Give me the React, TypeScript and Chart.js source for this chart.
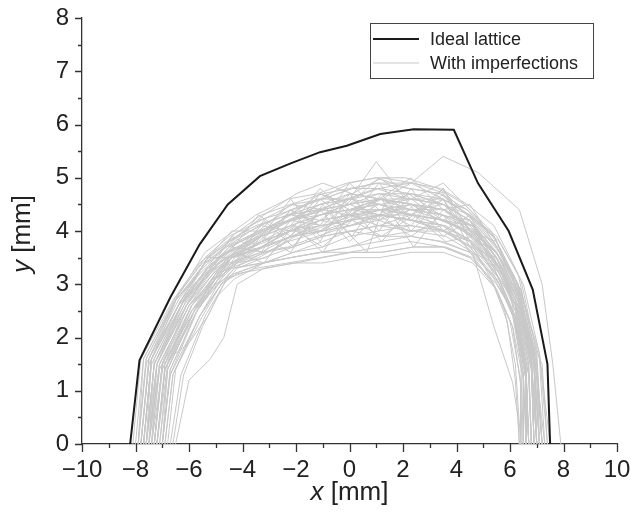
import { useEffect, useRef } from 'react';
import { Chart, registerables } from 'chart.js';

Chart.register(...registerables);

const FONT = '"Liberation Sans", Arial, Helvetica, sans-serif';

// Axis ranges and labelled ticks
const xRange = [-10, 10];
const yRange = [0, 8];
const xMajorStep = 2;
const yMajorStep = 1;

// Ideal lattice profile (mm)
const idealX = [-8.2, -7.85, -6.7, -5.6, -4.55, -3.35, -2.2, -1.1, -0.1, 1.15, 2.4, 3.9, 4.8, 5.95, 6.85, 7.4, 7.5];
const idealY = [0, 1.57, 2.75, 3.75, 4.5, 5.03, 5.27, 5.48, 5.6, 5.82, 5.91, 5.9, 4.9, 4.0, 2.9, 1.5, 0];

type Pt = [number, number];

// Profiles with imperfections, higher group
const upperRuns: Pt[][] = [
  [[-7.9,0],[-7.7,1.6],[-6.5,2.75],[-5.5,3.4],[-4.5,3.8],[-3.4,4.2],[-2.1,4.4],[-1.0,4.6],[0.1,4.8],[1.0,4.9],[2.2,4.8],[3.4,4.7],[4.4,4.3],[5.4,3.9],[6.2,3.0],[6.9,1.6],[7.1,0]],
  [[-8.0,0],[-7.7,1.6],[-6.4,2.8],[-5.4,3.6],[-4.6,3.9],[-3.5,4.3],[-2.3,4.6],[-1.2,4.7],[-0.1,4.9],[1.0,5.0],[2.1,5.0],[3.3,4.8],[4.3,4.5],[5.3,4.0],[6.2,3.1],[6.9,1.7],[7.3,0]],
  [[-7.8,0],[-7.5,1.5],[-6.3,2.7],[-5.3,3.5],[-4.4,4.0],[-3.4,4.0],[-2.2,4.5],[-1.0,4.4],[0.0,4.7],[1.2,4.6],[2.3,4.9],[3.5,4.6],[4.5,4.3],[5.5,3.9],[6.4,3.1],[7.0,1.7],[7.2,0]],
  [[-7.3,0],[-7.0,1.5],[-6.0,2.6],[-5.1,3.2],[-4.3,3.6],[-3.3,3.9],[-2.2,4.2],[-1.1,4.5],[0,4.6],[1.1,4.8],[2.3,4.9],[3.5,5.4],[4.8,5.1],[6.35,4.4],[7.2,3.0],[7.6,1.5],[7.9,0]],
  [[-7.9,0],[-7.6,1.6],[-6.5,2.7],[-5.4,3.4],[-4.6,3.7],[-3.4,4.1],[-2.3,4.3],[-1.2,4.6],[-0.1,4.6],[1.0,4.8],[2.2,4.6],[3.4,4.6],[4.4,4.4],[5.4,3.9],[6.3,3.0],[7.1,1.7],[7.5,0]],
  [[-7.5,0],[-7.3,1.6],[-6.2,2.7],[-5.2,3.4],[-4.4,3.9],[-3.3,4.3],[-2.2,4.5],[-1.0,4.7],[0,4.8],[1.1,4.9],[2.3,4.9],[3.4,4.8],[4.4,4.5],[5.4,4.1],[6.3,3.2],[6.9,1.8],[7.2,0]],
  [[-8.1,0],[-7.8,1.6],[-6.6,2.7],[-5.6,3.4],[-4.6,3.8],[-3.5,4.1],[-2.3,4.3],[-1.1,4.5],[0,4.6],[1.1,4.7],[2.3,4.7],[3.5,4.5],[4.5,4.2],[5.5,3.7],[6.4,2.9],[7.1,1.6],[7.3,0]],
  [[-7.6,0],[-7.3,1.5],[-6.2,2.7],[-5.3,3.5],[-4.5,3.8],[-3.3,4.1],[-2.2,4.4],[-1.1,4.6],[0,4.9],[1.0,5.0],[2.2,4.8],[3.4,4.7],[4.4,4.4],[5.4,3.8],[6.3,3.0],[6.9,1.6],[7.0,0]],
  [[-7.7,0],[-7.4,1.6],[-6.4,2.8],[-5.4,3.5],[-4.5,3.9],[-3.3,4.2],[-2.1,4.5],[-1.0,4.6],[0.1,4.8],[1.1,4.8],[2.3,4.7],[3.5,4.6],[4.5,4.3],[5.6,3.8],[6.5,3.0],[7.1,1.7],[7.4,0]],
  [[-7.6,0],[-7.2,1.5],[-6.1,2.7],[-5.2,3.3],[-4.5,3.7],[-3.3,4.0],[-2.2,4.3],[-1.1,4.7],[0,4.5],[1.1,5.0],[2.3,4.6],[3.5,4.9],[4.5,4.4],[5.5,3.8],[6.3,3.0],[6.8,1.6],[7.0,0]],
  [[-7.5,0],[-7.2,1.5],[-6.2,2.7],[-5.3,3.2],[-4.4,3.6],[-3.3,4.0],[-2.2,4.3],[-1.1,4.2],[0,4.6],[1.0,5.3],[2.4,4.4],[3.5,4.5],[4.6,4.0],[5.5,3.6],[6.3,2.8],[6.8,1.5],[6.9,0]],
  [[-7.9,0],[-7.6,1.5],[-6.5,2.7],[-5.5,3.3],[-4.6,3.7],[-3.4,4.0],[-2.3,4.2],[-1.1,4.3],[0,4.5],[1.1,4.7],[2.3,4.6],[3.5,4.5],[4.5,4.2],[5.5,3.6],[6.4,2.9],[7.0,1.6],[7.2,0]],
  [[-7.8,0],[-7.5,1.6],[-6.4,2.6],[-5.4,3.2],[-4.6,3.6],[-3.4,3.9],[-2.3,4.3],[-1.2,4.4],[0,4.6],[1.2,4.5],[2.3,4.7],[3.5,4.5],[4.5,4.3],[5.5,3.7],[6.3,2.9],[6.8,1.6],[7.0,0]],
  [[-7.4,0],[-7.2,1.5],[-6.1,2.6],[-5.2,3.3],[-4.4,3.7],[-3.4,4.0],[-2.3,4.2],[-1.1,4.5],[0,4.7],[1.1,4.6],[2.3,4.6],[3.5,4.5],[4.5,4.2],[5.6,3.5],[6.3,2.8],[6.8,1.6],[6.9,0]],
  [[-7.7,0],[-7.4,1.6],[-6.3,2.7],[-5.4,3.4],[-4.4,3.8],[-3.2,4.3],[-2.0,4.7],[-1.0,4.9],[0.1,4.7],[1.2,5.0],[2.4,4.9],[3.6,4.7],[4.6,4.2],[5.6,3.6],[6.4,2.8],[7.0,1.5],[7.2,0]],
];

// Profiles with imperfections, central group
const middleRuns: Pt[][] = [
  [[-7.6,0],[-7.3,1.5],[-6.1,2.6],[-5.1,3.2],[-4.4,3.5],[-3.3,3.9],[-2.2,4.1],[-1.1,4.3],[0,4.5],[1.1,4.6],[2.3,4.5],[3.5,4.4],[4.6,4.1],[5.6,3.4],[6.3,2.6],[6.8,1.4],[6.9,0]],
  [[-7.7,0],[-7.4,1.6],[-6.3,2.6],[-5.3,3.3],[-4.5,3.7],[-3.2,4.0],[-2.1,4.2],[-0.9,4.4],[0.65,3.6],[1.3,4.5],[2.3,4.6],[3.5,4.5],[4.5,4.2],[5.5,3.6],[6.2,2.9],[6.8,1.6],[7.0,0]],
  [[-7.0,0],[-6.7,1.4],[-5.7,2.5],[-4.9,3.2],[-4.2,3.4],[-3.1,3.6],[-2.0,3.9],[-0.9,4.1],[0.2,4.3],[1.3,4.4],[2.5,4.3],[3.6,4.2],[4.7,3.9],[5.7,3.2],[6.4,2.5],[7.0,1.3],[7.1,0]],
  [[-7.4,0],[-7.0,1.4],[-5.9,2.6],[-5.0,3.1],[-4.4,3.4],[-3.3,3.7],[-2.3,4.0],[-1.1,4.0],[0,4.3],[1.1,4.1],[2.3,4.3],[3.6,4.2],[4.6,3.9],[5.6,3.3],[6.3,2.6],[6.9,1.4],[7.0,0]],
  [[-7.7,0],[-7.4,1.6],[-6.3,2.7],[-5.3,3.3],[-4.6,3.6],[-3.4,3.8],[-2.3,4.3],[-1.1,4.4],[0,4.5],[1.1,4.3],[2.2,4.7],[3.4,4.3],[4.5,4.2],[5.5,3.5],[6.3,2.7],[6.8,1.5],[7.0,0]],
  [[-7.5,0],[-7.1,1.5],[-6.0,2.6],[-5.1,3.1],[-4.5,3.4],[-3.3,3.6],[-2.2,3.9],[-1.1,4.1],[0,4.2],[1.1,4.4],[2.3,4.4],[3.5,4.2],[4.5,4.0],[5.5,3.4],[6.2,2.7],[6.7,1.5],[6.8,0]],
  [[-7.3,0],[-7.0,1.5],[-5.8,2.5],[-4.9,3.2],[-4.4,3.5],[-3.3,3.7],[-2.2,4.0],[-1.1,4.3],[0,4.4],[1.1,4.4],[2.3,4.5],[3.5,4.3],[4.6,4.1],[5.5,3.5],[6.2,2.8],[6.6,1.5],[6.7,0]],
  [[-7.6,0],[-7.3,1.5],[-6.2,2.7],[-5.2,3.2],[-4.5,3.5],[-3.3,3.9],[-2.2,4.6],[-1.1,3.9],[0,4.2],[1.1,4.5],[2.3,4.3],[3.5,4.6],[4.5,3.9],[5.5,3.6],[6.3,2.7],[6.8,1.5],[6.9,0]],
  [[-7.8,0],[-7.5,1.5],[-6.4,2.6],[-5.4,3.2],[-4.6,3.5],[-3.3,3.8],[-2.2,4.0],[-1.1,4.2],[0,4.1],[1.1,4.3],[2.3,4.2],[3.5,4.1],[4.6,3.8],[5.6,3.2],[6.3,2.5],[6.8,1.4],[6.9,0]],
  [[-7.2,0],[-6.9,1.4],[-5.9,2.6],[-5.0,3.1],[-4.4,3.4],[-3.3,3.8],[-2.2,4.1],[-1.1,4.8],[0,4.3],[1.1,4.6],[2.3,4.4],[3.5,4.4],[4.5,4.1],[5.5,3.5],[6.2,2.7],[6.6,1.4],[6.6,0]],
  [[-7.6,0],[-7.4,1.6],[-6.3,2.7],[-5.3,3.3],[-4.5,3.5],[-3.3,3.7],[-2.2,3.9],[-1.1,4.0],[0,4.4],[1.1,4.5],[2.3,4.4],[3.5,4.3],[4.6,4.0],[5.6,3.3],[6.3,2.5],[6.9,1.4],[7.1,0]],
  [[-7.7,0],[-7.4,1.5],[-6.3,2.6],[-5.3,3.2],[-4.5,3.6],[-3.3,3.9],[-2.2,4.1],[-1.1,4.3],[0,4.4],[1.2,4.6],[2.4,3.7],[3.5,4.4],[4.5,4.1],[5.5,3.5],[6.3,2.8],[6.9,1.5],[7.0,0]],
  [[-7.3,0],[-7.0,1.5],[-5.9,2.6],[-5.0,3.2],[-4.4,3.5],[-3.3,3.8],[-2.2,4.0],[-1.1,4.2],[0,4.3],[1.1,4.2],[2.3,4.4],[3.5,4.3],[4.5,3.9],[5.5,3.3],[6.2,2.6],[6.7,1.4],[6.8,0]],
  [[-7.9,0],[-7.6,1.6],[-6.5,2.7],[-5.4,3.3],[-4.6,3.6],[-3.4,3.9],[-2.3,4.2],[-1.1,4.4],[0,4.5],[1.1,4.6],[2.3,4.5],[3.5,4.4],[4.5,4.0],[5.5,3.4],[6.3,2.7],[7.0,1.5],[7.2,0]],
  [[-7.4,0],[-7.1,1.4],[-6.1,2.6],[-5.2,3.2],[-4.4,3.7],[-3.2,3.6],[-2.2,4.2],[-1.0,4.1],[0.1,4.6],[1.1,4.2],[2.3,4.6],[3.5,4.2],[4.6,4.1],[5.5,3.4],[6.2,2.7],[6.7,1.5],[6.8,0]],
  [[-7.0,0],[-6.8,1.4],[-5.8,2.5],[-4.9,3.1],[-4.3,3.4],[-3.2,3.7],[-2.1,3.9],[-1.1,4.2],[0,4.3],[1.1,4.4],[2.3,4.3],[3.5,4.2],[4.6,3.9],[5.6,3.2],[6.2,2.5],[6.6,1.3],[6.7,0]],
  [[-7.3,0],[-7.0,1.4],[-5.9,2.5],[-5.0,3.1],[-4.4,3.5],[-3.3,3.8],[-2.2,4.0],[-1.1,4.3],[0,4.4],[1.1,4.5],[2.3,4.3],[3.5,4.8],[4.5,3.8],[5.5,3.4],[6.2,2.6],[6.6,1.4],[6.7,0]],
  [[-7.4,0],[-7.1,1.5],[-6.0,2.6],[-5.1,3.2],[-4.4,3.5],[-3.3,3.8],[-2.2,4.0],[-1.1,4.2],[0,4.3],[1.1,4.3],[2.3,4.3],[3.5,4.1],[4.6,3.6],[5.4,2.2],[6.1,1.15],[6.3,0.5],[6.35,0]],
  [[-7.5,0],[-7.2,1.5],[-6.0,2.7],[-5.1,3.3],[-4.3,3.6],[-3.2,4.0],[-2.2,4.2],[-1.0,4.4],[0,4.3],[1.2,4.6],[2.4,4.5],[3.6,4.4],[4.6,4.0],[5.6,3.3],[6.4,2.4],[7.2,1.5],[7.4,0]],
  [[-7.2,0],[-6.8,1.5],[-5.7,2.6],[-4.8,3.3],[-4.2,3.6],[-3.1,3.8],[-2.1,4.1],[-1.0,4.0],[0.1,4.4],[1.2,4.3],[2.3,4.5],[3.4,4.2],[4.4,4.0],[5.4,3.5],[6.0,2.9],[6.4,1.6],[6.5,0]],
];

// Profiles with imperfections, strongly irregular
const jaggedRuns: Pt[][] = [
  [[-7.5,0],[-7.2,1.5],[-6.1,2.6],[-5.2,3.3],[-4.4,3.9],[-3.3,3.6],[-2.2,4.4],[-1.1,3.8],[0,4.7],[1.1,4.0],[2.3,4.8],[3.5,4.0],[4.5,4.3],[5.5,3.3],[6.3,2.8],[6.8,1.4],[6.9,0]],
  [[-7.2,0],[-6.9,1.4],[-5.8,2.5],[-4.9,3.3],[-4.3,3.4],[-3.2,4.2],[-2.1,3.7],[-1.0,4.5],[0.1,3.9],[1.2,4.7],[2.3,4.0],[3.5,4.6],[4.5,3.7],[5.5,3.5],[6.2,2.5],[6.7,1.3],[6.8,0]],
  [[-7.8,0],[-7.5,1.6],[-6.4,2.7],[-5.4,3.4],[-4.5,3.6],[-3.4,4.3],[-2.2,3.9],[-1.1,4.6],[0,4.2],[1.1,4.9],[2.3,4.2],[3.5,4.7],[4.5,4.0],[5.5,3.8],[6.4,2.7],[7.0,1.6],[7.1,0]],
  [[-7.0,0],[-6.7,1.4],[-5.7,2.5],[-4.9,3.1],[-4.3,3.6],[-3.2,3.4],[-2.1,4.1],[-1.0,3.6],[0.1,4.4],[1.2,3.8],[2.4,4.5],[3.5,3.9],[4.5,4.2],[5.5,3.2],[6.2,2.6],[6.6,1.3],[6.7,0]],
  [[-7.6,0],[-7.3,1.5],[-6.2,2.6],[-5.3,3.2],[-4.4,3.5],[-3.3,3.8],[-2.2,4.4],[-1.1,4.1],[0,4.9],[1.1,4.4],[2.3,4.1],[3.5,4.8],[4.5,4.0],[5.5,3.6],[6.3,2.9],[6.9,1.5],[7.0,0]],
  [[-7.3,0],[-7.0,1.4],[-5.9,2.5],[-5.0,3.2],[-4.4,3.3],[-3.3,3.9],[-2.2,3.6],[-1.1,4.4],[0,3.8],[1.1,4.3],[2.3,3.9],[3.5,4.3],[4.5,3.6],[5.5,3.4],[6.2,2.6],[6.6,1.4],[6.7,0]],
  [[-7.7,0],[-7.4,1.6],[-6.3,2.7],[-5.3,3.5],[-4.5,3.5],[-3.3,4.1],[-2.2,4.0],[-1.1,4.7],[0,4.4],[1.1,4.6],[2.3,5.0],[3.5,4.4],[4.5,4.5],[5.5,3.7],[6.3,3.0],[6.9,1.6],[7.1,0]],
  [[-6.9,0],[-6.6,1.3],[-5.6,2.4],[-4.8,3.1],[-4.2,3.4],[-3.1,3.5],[-2.0,4.0],[-1.0,3.7],[0.1,4.2],[1.2,3.9],[2.4,4.3],[3.6,3.8],[4.6,3.9],[5.6,3.0],[6.2,2.4],[6.6,1.2],[6.7,0]],
];

// Profiles with imperfections, lower group
const lowerRuns: Pt[][] = [
  [[-7.2,0],[-6.9,1.4],[-5.7,2.5],[-4.9,3.1],[-4.5,3.3],[-3.4,3.5],[-2.3,3.8],[-1.0,4.0],[0.1,4.2],[1.2,4.3],[2.4,4.2],[3.6,4.0],[4.5,3.8],[5.4,3.3],[6.1,2.5],[6.5,1.3],[6.6,0]],
  [[-6.9,0],[-6.6,1.3],[-5.6,2.4],[-4.8,3.0],[-4.3,3.2],[-3.2,3.4],[-2.2,3.5],[-1.1,3.6],[0,3.7],[1.1,3.8],[2.3,3.9],[3.4,3.8],[4.5,3.6],[5.4,3.0],[6.0,2.3],[6.4,1.2],[6.45,0]],
  [[-6.5,0],[-6.0,1.2],[-5.2,1.6],[-4.7,2.0],[-4.2,3.0],[-3.2,3.3],[-2.0,3.4],[-1.0,3.5],[0.1,3.6],[1.2,3.6],[2.4,3.7],[3.6,3.7],[4.6,3.5],[5.5,2.9],[6.1,2.2],[6.4,1.1],[6.4,0]],
  [[-7.1,0],[-6.8,1.4],[-5.8,2.5],[-4.9,3.0],[-4.3,3.3],[-3.2,3.6],[-2.1,3.7],[-1.0,3.9],[0.1,4.0],[1.1,4.1],[2.3,4.1],[3.5,4.0],[4.5,3.7],[5.4,3.1],[6.2,2.4],[6.6,1.3],[6.7,0]],
  [[-6.8,0],[-6.5,1.4],[-5.5,2.4],[-4.8,3.0],[-4.3,3.3],[-3.2,3.4],[-2.1,3.6],[-1.0,3.8],[0,4.0],[1.2,3.9],[2.4,4.0],[3.6,3.9],[4.6,3.6],[5.6,3.0],[6.2,2.3],[6.6,1.2],[6.6,0]],
  [[-7.0,0],[-6.7,1.3],[-5.6,2.4],[-4.8,3.0],[-4.2,3.2],[-3.1,3.3],[-2.1,3.4],[-1.0,3.4],[0.1,3.5],[1.1,3.5],[2.3,3.6],[3.5,3.6],[4.6,3.4],[5.5,2.9],[6.1,2.2],[6.5,1.2],[6.5,0]],
  [[-7.1,0],[-6.8,1.4],[-5.8,2.5],[-4.9,3.1],[-4.3,3.4],[-3.3,3.6],[-2.3,3.7],[-1.2,3.9],[0,4.1],[1.1,4.2],[2.3,4.0],[3.5,4.1],[4.5,3.8],[5.5,3.2],[6.1,2.5],[6.5,1.3],[6.5,0]],
  [[-6.6,0],[-6.2,1.3],[-5.5,2.2],[-4.9,2.8],[-4.3,3.1],[-3.2,3.4],[-2.1,3.6],[-1.0,3.7],[0,3.9],[1.1,4.0],[2.3,4.1],[3.5,4.0],[4.5,3.8],[5.3,3.1],[5.9,2.3],[6.2,1.2],[6.35,0]],
  [[-7.2,0],[-6.9,1.5],[-5.9,2.6],[-5.0,3.2],[-4.4,3.5],[-3.3,3.7],[-2.2,4.0],[-1.1,4.1],[0,4.2],[1.1,4.3],[2.3,4.2],[3.5,4.0],[4.5,3.7],[5.5,3.1],[6.1,2.4],[6.5,1.3],[6.6,0]],
  [[-7.5,0],[-7.1,1.5],[-6.0,2.6],[-5.0,3.1],[-4.4,3.3],[-3.3,3.4],[-2.2,3.5],[-1.1,3.6],[0,3.6],[1.1,3.7],[2.3,3.8],[3.5,3.7],[4.5,3.5],[5.5,3.0],[6.2,2.4],[6.6,1.3],[6.7,0]],
  [[-7.0,0],[-6.7,1.3],[-5.7,2.5],[-4.8,3.1],[-4.3,3.5],[-3.2,3.7],[-2.1,3.9],[-1.0,4.0],[0.1,4.1],[1.2,4.3],[2.4,4.2],[3.6,4.1],[4.6,3.8],[5.6,3.1],[6.2,2.3],[6.6,1.2],[6.6,0]],
  [[-7.2,0],[-6.9,1.4],[-5.9,2.5],[-5.0,3.0],[-4.3,3.2],[-3.2,3.4],[-2.2,3.5],[-1.0,3.6],[0,3.7],[1.1,3.9],[2.3,3.9],[3.5,3.8],[4.5,3.6],[5.5,3.1],[6.2,2.4],[6.6,1.3],[6.6,0]],
  [[-6.7,0],[-6.3,1.3],[-5.4,2.4],[-4.7,3.0],[-4.2,3.3],[-3.2,3.5],[-2.1,3.7],[-1.0,3.9],[0,4.0],[1.1,4.1],[2.3,4.0],[3.5,4.0],[4.6,3.7],[5.6,3.1],[6.2,2.4],[6.7,1.3],[6.8,0]],
  [[-7.3,0],[-7.0,1.5],[-6.0,1.9],[-5.3,2.4],[-4.6,3.1],[-3.5,3.3],[-2.3,3.4],[-1.1,3.5],[0,3.6],[1.2,3.6],[2.4,3.7],[3.5,3.7],[4.5,3.5],[5.3,3.1],[5.8,2.5],[6.2,1.5],[6.4,0]],
];

const idealColor = '#1a1a1a';
const runColor = '#c8c8c8';
const axisColor = '#333333';
const textColor = '#222222';

const minusLabel = (v: number) => (v < 0 ? '\u2212' + Math.abs(v) : String(v));

// Minor/major tick marks drawn outward from both axes
const tickMarks = {
  id: 'tickMarks',
  afterDraw(chart: any) {
    const { ctx, chartArea, scales } = chart;
    const xs = scales.x;
    const ys = scales.y;
    ctx.save();
    ctx.strokeStyle = axisColor;
    ctx.lineWidth = 1.3;
    ctx.beginPath();
    for (let v = xRange[0]; v <= xRange[1]; v += 1) {
      const px = Math.round(xs.getPixelForValue(v)) + 0.5;
      const len = v % xMajorStep === 0 ? 8 : 4;
      ctx.moveTo(px, chartArea.bottom);
      ctx.lineTo(px, chartArea.bottom + len);
    }
    for (let v = yRange[0]; v <= yRange[1]; v += yMajorStep / 2) {
      const py = Math.round(ys.getPixelForValue(v)) + 0.5;
      const len = Number.isInteger(v) ? 7 : 4;
      ctx.moveTo(chartArea.left, py);
      ctx.lineTo(chartArea.left - len, py);
    }
    ctx.stroke();
    ctx.restore();
  },
};

// Axis titles with an italic variable name
const axisTitles = {
  id: 'axisTitles',
  afterDraw(chart: any) {
    const { ctx, chartArea } = chart;
    const size = 26;
    const italic = `italic ${size}px ${FONT}`;
    const normal = `${size}px ${FONT}`;
    const drawTitle = (name: string, cx: number, cy: number, rotate: boolean) => {
      ctx.save();
      ctx.fillStyle = textColor;
      ctx.textBaseline = 'middle';
      ctx.textAlign = 'left';
      ctx.font = italic;
      const w1 = ctx.measureText(name).width;
      ctx.font = normal;
      const w2 = ctx.measureText(' [mm]').width;
      ctx.translate(cx, cy);
      if (rotate) ctx.rotate(-Math.PI / 2);
      const start = -(w1 + w2) / 2;
      ctx.font = italic;
      ctx.fillText(name, start, 0);
      ctx.font = normal;
      ctx.fillText(' [mm]', start + w1, 0);
      ctx.restore();
    };
    drawTitle('x', (chartArea.left + chartArea.right) / 2, 493, false);
    drawTitle('y', 23, 234, true);
  },
};

// Boxed legend in the upper right corner
const boxLegend = {
  id: 'boxLegend',
  afterDraw(chart: any) {
    const { ctx } = chart;
    const ds = chart.data.datasets;
    const entries = [ds[0], ds[1]];
    const box = { x: 370.5, y: 23.5, w: 223, h: 55 };
    ctx.save();
    ctx.fillStyle = '#ffffff';
    ctx.fillRect(box.x, box.y, box.w, box.h);
    ctx.strokeStyle = '#444444';
    ctx.lineWidth = 1;
    ctx.strokeRect(box.x, box.y, box.w, box.h);
    ctx.font = `18px ${FONT}`;
    ctx.textBaseline = 'middle';
    ctx.textAlign = 'left';
    entries.forEach((d: any, i: number) => {
      const cy = 39 + i * 24;
      ctx.strokeStyle = d.borderColor;
      ctx.lineWidth = d.borderWidth;
      ctx.beginPath();
      ctx.moveTo(373, cy);
      ctx.lineTo(419, cy);
      ctx.stroke();
      ctx.fillStyle = textColor;
      ctx.fillText(d.label, 430, cy + 1);
    });
    ctx.restore();
  },
};

export default function App() {
  const canvasRef = useRef<HTMLCanvasElement | null>(null);

  useEffect(() => {
    document.body.style.margin = '0';
    const canvas = canvasRef.current;
    if (!canvas) return;

    const ideal = idealX.map((x, i) => ({ x, y: idealY[i] }));
    const runs = [...upperRuns, ...middleRuns, ...jaggedRuns, ...lowerRuns];

    const datasets: any[] = [
      {
        label: 'Ideal lattice',
        data: ideal,
        borderColor: idealColor,
        borderWidth: 2,
        pointRadius: 0,
        tension: 0,
      },
      ...runs.map((run, i) => ({
        label: i === 0 ? 'With imperfections' : `With imperfections ${i + 1}`,
        data: run.map(([x, y]) => ({ x, y })),
        borderColor: runColor,
        borderWidth: 1,
        pointRadius: 0,
        tension: 0,
      })),
    ];

    const chart = new Chart(canvas, {
      type: 'line',
      data: { datasets },
      options: {
        animation: false,
        responsive: false,
        devicePixelRatio: 1,
        layout: { padding: { top: 18, right: 14, left: 0, bottom: 0 } },
        plugins: {
          legend: { display: false },
          tooltip: { enabled: false },
        },
        scales: {
          x: {
            type: 'linear',
            min: xRange[0],
            max: xRange[1],
            grid: { display: false, drawTicks: false },
            border: { display: true, color: axisColor, width: 1.3 },
            ticks: {
              stepSize: xMajorStep,
              padding: 12,
              color: textColor,
              font: { family: FONT, size: 24 },
              maxRotation: 0,
              autoSkip: false,
              callback: (v: any) => minusLabel(Number(v)),
            },
            afterFit: (s: any) => {
              s.height = 73;
              s.paddingLeft = 0;
              s.paddingRight = 0;
            },
          },
          y: {
            type: 'linear',
            min: yRange[0],
            max: yRange[1],
            grid: { display: false, drawTicks: false },
            border: { display: true, color: axisColor, width: 1.3 },
            ticks: {
              stepSize: yMajorStep,
              padding: 13,
              color: textColor,
              font: { family: FONT, size: 24 },
              autoSkip: false,
              callback: (v: any) => minusLabel(Number(v)),
            },
            afterFit: (s: any) => {
              s.width = 82;
              s.paddingTop = 0;
              s.paddingBottom = 0;
            },
          },
        },
      },
      plugins: [tickMarks, axisTitles, boxLegend],
    });

    return () => chart.destroy();
  }, []);

  return <canvas ref={canvasRef} width={631} height={517} style={{ display: 'block' }} />;
}
